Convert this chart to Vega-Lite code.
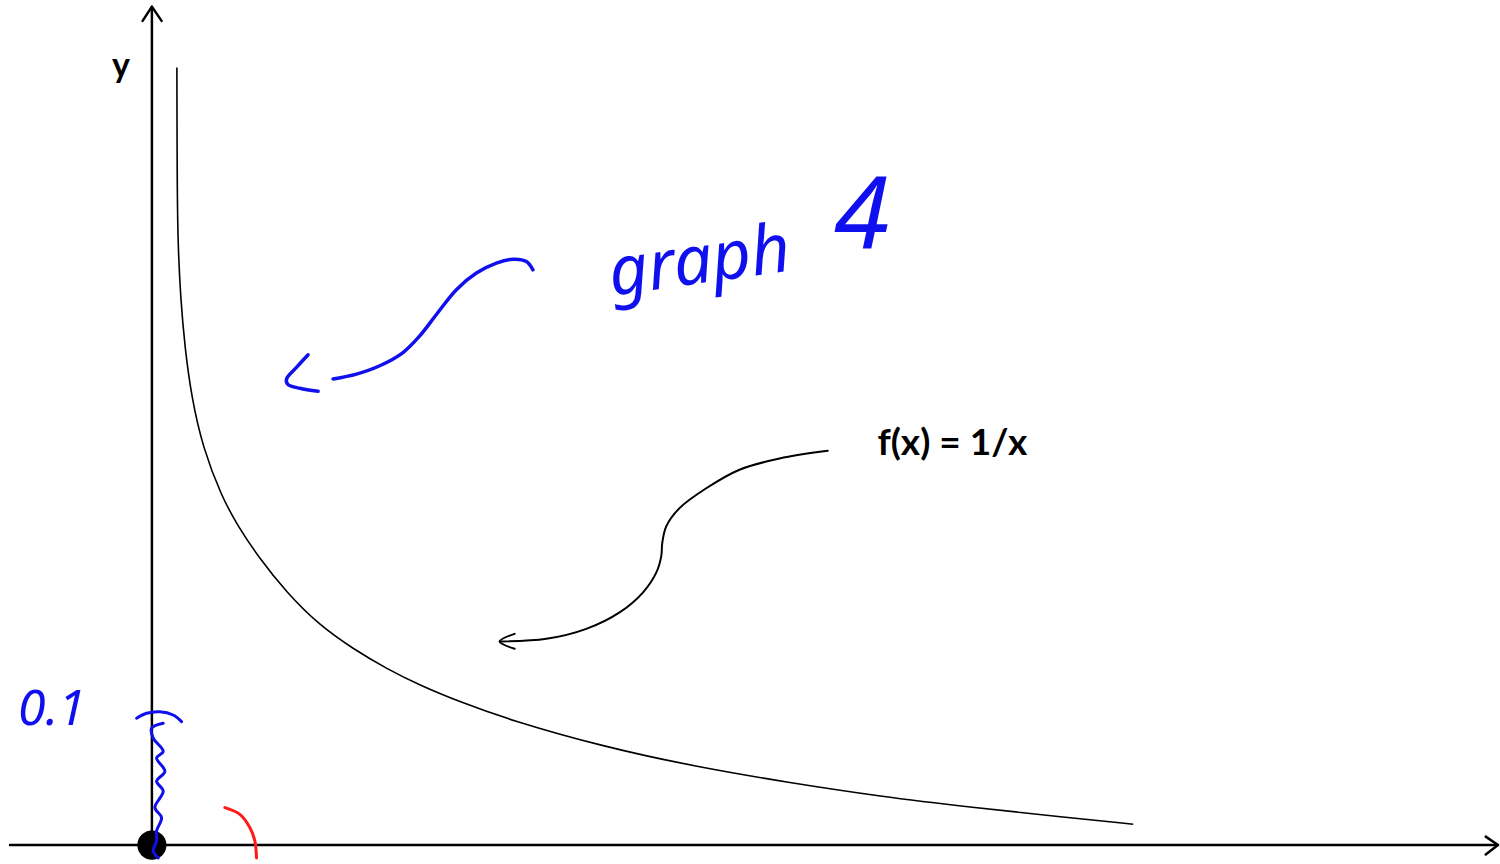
{
  "$schema": "https://vega.github.io/schema/vega-lite/v6.json",
  "width": 1500,
  "height": 864,
  "autosize": {"type": "fit", "contains": "padding"},
  "padding": 0,
  "background": "white",
  "view": {"stroke": null},
  "config": {"font": "Lato"},
  "datasets": {
    "axes": [
      {"seg": "xaxis", "i": 0, "x": -1.42, "y": 0},
      {"seg": "xaxis", "i": 1, "x": 13.47, "y": 0},
      {"seg": "yaxis", "i": 0, "x": 0, "y": -0.13},
      {"seg": "yaxis", "i": 1, "x": 0, "y": 8.44},
      {"seg": "toparrow", "i": 0, "x": -0.093, "y": 8.30},
      {"seg": "toparrow", "i": 1, "x": 0, "y": 8.443},
      {"seg": "toparrow", "i": 2, "x": 0.097, "y": 8.30},
      {"seg": "rightarrow", "i": 0, "x": 13.347, "y": 0.085},
      {"seg": "rightarrow", "i": 1, "x": 13.47, "y": 0},
      {"seg": "rightarrow", "i": 2, "x": 13.347, "y": -0.095}
    ],
    "curve": [
      {"i": 0, "x": 0.25, "y": 7.83},
      {"i": 1, "x": 0.253, "y": 6.51},
      {"i": 2, "x": 0.263, "y": 6.01},
      {"i": 3, "x": 0.287, "y": 5.51},
      {"i": 4, "x": 0.33, "y": 5.01},
      {"i": 5, "x": 0.397, "y": 4.51},
      {"i": 6, "x": 0.507, "y": 4.01},
      {"i": 7, "x": 0.697, "y": 3.51},
      {"i": 8, "x": 0.862, "y": 3.21},
      {"i": 9, "x": 1.06, "y": 2.91},
      {"i": 10, "x": 1.347, "y": 2.543},
      {"i": 11, "x": 1.68, "y": 2.21},
      {"i": 12, "x": 2.013, "y": 1.977},
      {"i": 13, "x": 2.347, "y": 1.777},
      {"i": 14, "x": 2.68, "y": 1.61},
      {"i": 15, "x": 3.08, "y": 1.443},
      {"i": 16, "x": 3.58, "y": 1.26},
      {"i": 17, "x": 4.52, "y": 0.99},
      {"i": 18, "x": 5.44, "y": 0.79},
      {"i": 19, "x": 6.37, "y": 0.63},
      {"i": 20, "x": 7.29, "y": 0.49},
      {"i": 21, "x": 8.21, "y": 0.38},
      {"i": 22, "x": 9.13, "y": 0.28},
      {"i": 23, "x": 9.82, "y": 0.21}
    ],
    "blackArrow": [
      {"seg": "shaft", "i": 0, "x": 6.763, "y": 3.97},
      {"seg": "shaft", "i": 1, "x": 6.28, "y": 3.893},
      {"seg": "shaft", "i": 2, "x": 5.88, "y": 3.78},
      {"seg": "shaft", "i": 3, "x": 5.547, "y": 3.593},
      {"seg": "shaft", "i": 4, "x": 5.28, "y": 3.393},
      {"seg": "shaft", "i": 5, "x": 5.147, "y": 3.21},
      {"seg": "shaft", "i": 6, "x": 5.107, "y": 3.043},
      {"seg": "shaft", "i": 7, "x": 5.097, "y": 2.91},
      {"seg": "shaft", "i": 8, "x": 5.047, "y": 2.743},
      {"seg": "shaft", "i": 9, "x": 4.913, "y": 2.543},
      {"seg": "shaft", "i": 10, "x": 4.68, "y": 2.343},
      {"seg": "shaft", "i": 11, "x": 4.347, "y": 2.177},
      {"seg": "shaft", "i": 12, "x": 3.947, "y": 2.077},
      {"seg": "shaft", "i": 13, "x": 3.48, "y": 2.05},
      {"seg": "head", "i": 0, "x": 3.63, "y": 2.127},
      {"seg": "head", "i": 1, "x": 3.48, "y": 2.05},
      {"seg": "head", "i": 2, "x": 3.63, "y": 1.977}
    ],
    "blueArrow": [
      {"seg": "shaft", "i": 0, "x": 3.813, "y": 5.793},
      {"seg": "shaft", "i": 1, "x": 3.747, "y": 5.877},
      {"seg": "shaft", "i": 2, "x": 3.613, "y": 5.90},
      {"seg": "shaft", "i": 3, "x": 3.447, "y": 5.86},
      {"seg": "shaft", "i": 4, "x": 3.247, "y": 5.76},
      {"seg": "shaft", "i": 5, "x": 3.047, "y": 5.593},
      {"seg": "shaft", "i": 6, "x": 2.847, "y": 5.343},
      {"seg": "shaft", "i": 7, "x": 2.68, "y": 5.127},
      {"seg": "shaft", "i": 8, "x": 2.513, "y": 4.96},
      {"seg": "shaft", "i": 9, "x": 2.28, "y": 4.827},
      {"seg": "shaft", "i": 10, "x": 2.047, "y": 4.743},
      {"seg": "shaft", "i": 11, "x": 1.813, "y": 4.693},
      {"seg": "head", "i": 0, "x": 1.563, "y": 4.937},
      {"seg": "head", "i": 1, "x": 1.447, "y": 4.81},
      {"seg": "head", "i": 2, "x": 1.347, "y": 4.693},
      {"seg": "head", "i": 3, "x": 1.36, "y": 4.64},
      {"seg": "head", "i": 4, "x": 1.48, "y": 4.60},
      {"seg": "head", "i": 5, "x": 1.663, "y": 4.57}
    ],
    "squiggle": [
      {"seg": "arc", "i": 0, "x": -0.153, "y": 1.277},
      {"seg": "arc", "i": 1, "x": -0.053, "y": 1.327},
      {"seg": "arc", "i": 2, "x": 0.08, "y": 1.343},
      {"seg": "arc", "i": 3, "x": 0.213, "y": 1.31},
      {"seg": "arc", "i": 4, "x": 0.297, "y": 1.243},
      {"seg": "zig", "i": 0, "x": 0.113, "y": 1.227},
      {"seg": "zig", "i": 1, "x": -0.003, "y": 1.177},
      {"seg": "zig", "i": 2, "x": 0.013, "y": 1.077},
      {"seg": "zig", "i": 3, "x": 0.113, "y": 0.943},
      {"seg": "zig", "i": 4, "x": 0.047, "y": 0.877},
      {"seg": "zig", "i": 5, "x": 0.13, "y": 0.743},
      {"seg": "zig", "i": 6, "x": 0.047, "y": 0.643},
      {"seg": "zig", "i": 7, "x": 0.113, "y": 0.543},
      {"seg": "zig", "i": 8, "x": 0.03, "y": 0.377},
      {"seg": "zig", "i": 9, "x": 0.097, "y": 0.277},
      {"seg": "zig", "i": 10, "x": 0.047, "y": 0.143},
      {"seg": "zig", "i": 11, "x": 0.047, "y": 0.043},
      {"seg": "zig", "i": 12, "x": 0.013, "y": -0.057},
      {"seg": "zig", "i": 13, "x": 0.063, "y": -0.13}
    ],
    "redArc": [
      {"i": 0, "x": 0.73, "y": 0.377},
      {"i": 1, "x": 0.88, "y": 0.31},
      {"i": 2, "x": 0.98, "y": 0.177},
      {"i": 3, "x": 1.03, "y": 0.043},
      {"i": 4, "x": 1.047, "y": -0.13}
    ]
  },
  "encoding": {
    "x": {"field": "x", "type": "quantitative", "scale": {"domain": [-1.52, 13.48], "nice": false, "zero": false}, "axis": null},
    "y": {"field": "y", "type": "quantitative", "scale": {"domain": [-0.13, 8.51], "nice": false, "zero": false}, "axis": null}
  },
  "layer": [
    {
      "data": {"name": "axes"},
      "mark": {"type": "line", "color": "black", "strokeWidth": 2.5, "strokeCap": "round", "strokeJoin": "round"},
      "encoding": {"detail": {"field": "seg"}, "order": {"field": "i", "type": "quantitative"}}
    },
    {
      "data": {"name": "curve"},
      "mark": {"type": "line", "color": "black", "strokeWidth": 1.6, "interpolate": "basis"},
      "encoding": {"order": {"field": "i", "type": "quantitative"}}
    },
    {
      "data": {"name": "blackArrow"},
      "mark": {"type": "line", "color": "black", "strokeWidth": 2, "interpolate": "catmull-rom", "strokeCap": "round"},
      "encoding": {"detail": {"field": "seg"}, "order": {"field": "i", "type": "quantitative"}}
    },
    {
      "data": {"name": "blueArrow"},
      "mark": {"type": "line", "color": "#1010ee", "strokeWidth": 3.5, "interpolate": "catmull-rom", "strokeCap": "round", "strokeJoin": "round"},
      "encoding": {"detail": {"field": "seg"}, "order": {"field": "i", "type": "quantitative"}}
    },
    {
      "data": {"name": "redArc"},
      "mark": {"type": "line", "color": "#ff1a1a", "strokeWidth": 3, "interpolate": "catmull-rom", "strokeCap": "round"},
      "encoding": {"order": {"field": "i", "type": "quantitative"}}
    },
    {
      "data": {"values": [{"x": 0, "y": 0}]},
      "mark": {"type": "point", "filled": true, "color": "black", "opacity": 1, "size": 850}
    },
    {
      "data": {"name": "squiggle"},
      "mark": {"type": "line", "color": "#1010ee", "strokeWidth": 3, "interpolate": "catmull-rom", "strokeCap": "round", "strokeJoin": "round"},
      "encoding": {"detail": {"field": "seg"}, "order": {"field": "i", "type": "quantitative"}}
    },
    {
      "data": {"values": [{"x": -0.31, "y": 7.84, "label": "y"}]},
      "mark": {"type": "text", "font": "Lato", "fontSize": 34, "fontWeight": "bold", "color": "black", "align": "center", "baseline": "middle"},
      "encoding": {"text": {"field": "label"}}
    },
    {
      "data": {"values": [{"x": 8.01, "y": 4.04, "label": "f(x) = 1/x"}]},
      "mark": {"type": "text", "font": "Lato", "fontSize": 37, "fontWeight": "bold", "color": "black", "align": "center", "baseline": "middle"},
      "encoding": {"text": {"field": "label"}}
    },
    {
      "data": {"values": [{"x": 5.48, "y": 5.86, "label": "graph"}]},
      "mark": {"type": "text", "font": "Noto Sans", "fontSize": 68, "fontStyle": "italic", "color": "#1010ee", "align": "center", "baseline": "middle", "angle": -8},
      "encoding": {"text": {"field": "label"}}
    },
    {
      "data": {"values": [{"x": 7.1, "y": 6.31, "label": "4"}]},
      "mark": {"type": "text", "font": "Noto Sans", "fontSize": 100, "fontStyle": "italic", "color": "#1010ee", "align": "center", "baseline": "middle"},
      "encoding": {"text": {"field": "label"}}
    },
    {
      "data": {"values": [{"x": -1.0, "y": 1.36, "label": "0.1"}]},
      "mark": {"type": "text", "font": "Noto Sans", "fontSize": 50, "fontStyle": "italic", "color": "#1010ee", "align": "center", "baseline": "middle"},
      "encoding": {"text": {"field": "label"}}
    }
  ]
}
